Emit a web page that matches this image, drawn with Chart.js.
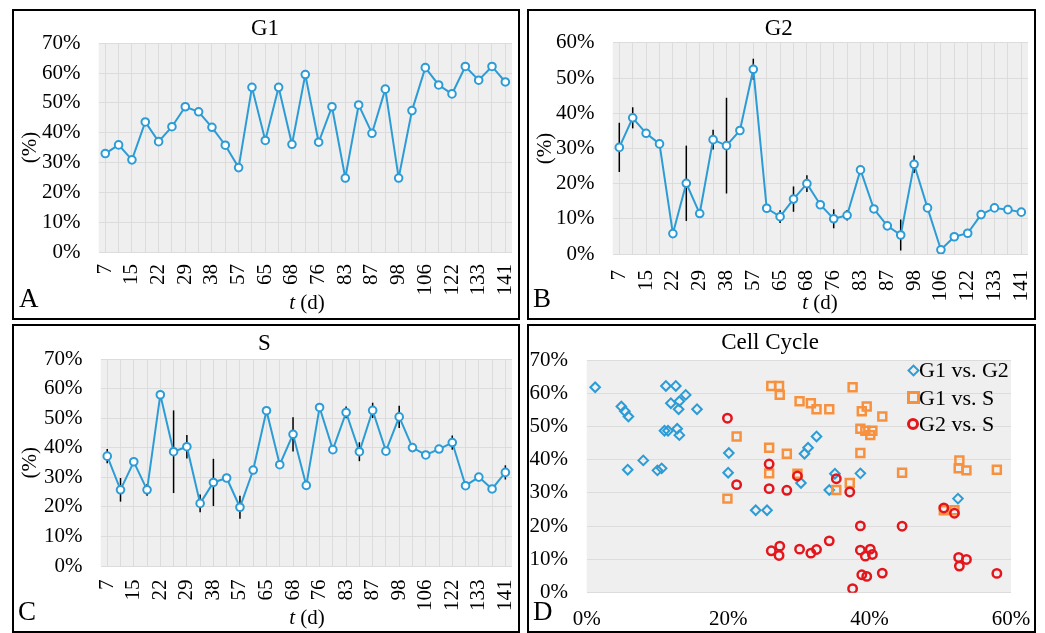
<!DOCTYPE html>
<html lang="en">
<head>
  <meta charset="UTF-8" />
  <title>Cell Cycle</title>
  <script src="https://cdn.jsdelivr.net/npm/chart.js"></script>
  <style>
    body { margin: 0; width: 1045px; height: 633px; background: #fff; position: relative; overflow: hidden;
           font-family: "Liberation Serif", "Times New Roman", serif; color: #000; }
    .panel { position: absolute; border: 2px solid #000; box-sizing: border-box; }
    .panel canvas { display: block; }
    .lbl { position: absolute; font-size: 27px; line-height: 27px; }
    .xt { position: absolute; font-size: 21px; line-height: 21px; transform: translateX(-50%); white-space: nowrap; }
    .leg { position: absolute; font-size: 22px; line-height: 22px; white-space: nowrap; }
    .mk { position: absolute; box-sizing: border-box; }
  </style>
</head>
<body>
  <div class="panel" style="left:12px;top:9px;width:508px;height:311px"><canvas id="cA" width="504" height="307"></canvas></div>
  <div class="panel" style="left:527px;top:9px;width:509px;height:311px"><canvas id="cB" width="505" height="307"></canvas></div>
  <div class="panel" style="left:12px;top:324px;width:508px;height:309px"><canvas id="cC" width="504" height="305"></canvas></div>
  <div class="panel" style="left:527px;top:324px;width:509px;height:309px"><canvas id="cD" width="505" height="305"></canvas></div>

  <span class="lbl" style="left:19px;top:285px">A</span>
  <span class="lbl" style="left:533px;top:285px">B</span>
  <span class="lbl" style="left:18px;top:598px">C</span>
  <span class="lbl" style="left:533px;top:598px">D</span>

  <span class="xt" style="left:307px;top:292px"><i>t</i> (d)</span>
  <span class="xt" style="left:820px;top:292px"><i>t</i> (d)</span>
  <span class="xt" style="left:307px;top:607px"><i>t</i> (d)</span>

  <div id="legD"></div>

  <script>
    // sampling days (every other one is labelled on the axis)
    const days = [7, 11, 15, 18, 22, 25, 29, 33, 38, 43, 57, 61, 65, 66, 68, 72, 76, 80, 83, 85, 87, 94, 98, 102, 106, 115, 122, 127, 133, 137, 141];

    // phase fractions (%)
    const g1 = [33.0, 35.9, 30.9, 43.6, 37.0, 42.0, 48.7, 47.0, 41.8, 35.8, 28.3, 55.2, 37.4, 55.2, 36.1, 59.5, 36.8, 48.7, 24.8, 49.3, 39.8, 54.6, 24.8, 47.4, 61.8, 56.0, 53.0, 62.2, 57.6, 62.2, 57.0];
    const g2 = [30.3, 38.7, 34.3, 31.3, 5.8, 20.1, 11.5, 32.5, 30.8, 35.1, 52.5, 13.0, 10.6, 15.6, 20.0, 14.0, 10.0, 11.0, 23.9, 12.8, 8.0, 5.4, 25.5, 13.1, 1.2, 4.9, 5.9, 11.2, 13.1, 12.6, 11.9];
    const s = [37.2, 25.8, 35.3, 25.8, 58.0, 38.7, 40.4, 21.2, 28.3, 29.8, 19.9, 32.5, 52.6, 34.3, 44.6, 27.3, 53.7, 39.4, 52.0, 38.7, 52.7, 38.9, 50.5, 40.1, 37.6, 39.6, 41.8, 27.2, 30.1, 26.1, 31.7];

    // standard deviations (%)
    const g2Err = [7, 3, 0, 0, 0, 10.7, 0, 2.8, 13.6, 0, 3, 0, 1.8, 3.6, 2.4, 0, 2.7, 1.5, 0, 0, 0, 4.4, 2.5, 0, 0, 0, 0, 0, 0, 1.2, 0];
    const sErr = [2.4, 4, 0, 2, 0, 14, 4, 3, 8, 0, 3.9, 0, 0, 0, 5.8, 0, 0, 0, 2, 3.2, 2.6, 0, 3.8, 1.2, 0, 0, 2.4, 0.8, 0, 0, 2.4];

    const pairNames = ['G1 vs. G2', 'G1 vs. S', 'G2 vs. S'];

    const SERIF = '"Liberation Serif", "Times New Roman", serif';
    const BLUE = '#2c9cd6';
    const ORANGE = '#f7913d';
    const RED = '#e3161d';
    const GRID = '#dcdcdc';

    Chart.defaults.font.family = SERIF;
    Chart.defaults.color = '#000';

    // grey plot area
    const plotBg = {
      id: 'plotBg',
      beforeDraw(chart) {
        const a = chart.chartArea, ctx = chart.ctx;
        ctx.save();
        ctx.fillStyle = '#efefef';
        ctx.fillRect(a.left, a.top, a.right - a.left, a.bottom - a.top);
        ctx.restore();
      }
    };

    // vertical error bars, under the line
    const errorBars = {
      id: 'errorBars',
      beforeDatasetsDraw(chart) {
        const ctx = chart.ctx, y = chart.scales.y;
        chart.data.datasets.forEach((ds, di) => {
          if (!ds.errors) return;
          const meta = chart.getDatasetMeta(di);
          ctx.save();
          ctx.strokeStyle = '#000';
          ctx.lineWidth = 1.5;
          ds.errors.forEach((e, i) => {
            if (!e) return;
            const x = meta.data[i].x;
            ctx.beginPath();
            ctx.moveTo(x, y.getPixelForValue(ds.data[i] + e));
            ctx.lineTo(x, y.getPixelForValue(ds.data[i] - e));
            ctx.stroke();
          });
          ctx.restore();
        });
      }
    };

    function lineChart(id, title, values, errors, yMax, g) {
      return new Chart(document.getElementById(id), {
        type: 'line',
        data: {
          labels: days,
          datasets: [{
            data: values,
            errors: errors,
            borderColor: BLUE,
            borderWidth: 2,
            pointRadius: 3.8,
            pointBorderWidth: 2,
            pointBorderColor: BLUE,
            pointBackgroundColor: '#fff',
            tension: 0
          }]
        },
        options: {
          responsive: false,
          animation: false,
          layout: { padding: { left: 0, right: g.right, top: 0, bottom: 0 } },
          plugins: {
            legend: { display: false },
            tooltip: { enabled: false },
            title: {
              display: true, text: title, color: '#000',
              font: { family: SERIF, size: 23, weight: 'normal' },
              padding: { top: g.tTop, bottom: g.tBot }
            }
          },
          scales: {
            x: {
              offset: true,
              grid: { color: GRID, drawTicks: false },
              border: { display: false },
              ticks: {
                autoSkip: false, minRotation: 90, maxRotation: 90, padding: g.xPad,
                font: { family: SERIF, size: 21 },
                callback: (v, i) => (i % 2 === 0 ? String(days[i]) : '')
              },
              afterFit: sc => { sc.height = g.xH; sc.paddingLeft = 0; sc.paddingRight = 0; }
            },
            y: {
              min: 0, max: yMax,
              grid: { color: GRID, drawTicks: false },
              border: { display: false },
              ticks: { stepSize: 10, padding: 18, font: { family: SERIF, size: 21 }, callback: v => v + '%' },
              title: { display: true, text: '(%)', font: { family: SERIF, size: 21 }, padding: { top: 4, bottom: 0 } },
              afterFit: sc => { sc.width = g.yW; sc.paddingTop = 0; sc.paddingBottom = 0; }
            }
          }
        },
        plugins: [plotBg, errorBars]
      });
    }

    lineChart('cA', 'G1', g1, null, 70, { yW: 84.6, right: 2, tTop: 4.6, tBot: 0, xH: 66, xPad: 12 });
    lineChart('cB', 'G2', g2, g2Err, 60, { yW: 83.6, right: 5.6, tTop: 4.3, tBot: 0, xH: 64, xPad: 16 });
    lineChart('cC', 'S', s, sErr, 70, { yW: 86.6, right: 3.3, tTop: 4.3, tBot: 1.4, xH: 65, xPad: 13.5 });

    // panel D: pairwise scatter built from the same series
    const pairData = [
      g2.map((x, i) => ({ x: x, y: g1[i] })),
      s.map((x, i) => ({ x: x, y: g1[i] })),
      s.map((x, i) => ({ x: x, y: g2[i] }))
    ];
    const pairStyle = [
      { pointStyle: 'rectRot', radius: 4.8, borderWidth: 2, color: BLUE, order: 2 },
      { pointStyle: 'rect', radius: 5.6, borderWidth: 2.5, color: ORANGE, order: 1 },
      { pointStyle: 'circle', radius: 4.2, borderWidth: 2.5, color: RED, order: 0 }
    ];

    new Chart(document.getElementById('cD'), {
      type: 'scatter',
      data: {
        datasets: pairNames.map((name, k) => ({
          label: name,
          data: pairData[k],
          pointStyle: pairStyle[k].pointStyle,
          pointRadius: pairStyle[k].radius,
          pointBorderWidth: pairStyle[k].borderWidth,
          borderColor: pairStyle[k].color,
          backgroundColor: 'rgba(0,0,0,0)',
          order: pairStyle[k].order
        }))
      },
      options: {
        responsive: false,
        animation: false,
        layout: { padding: { left: 0, right: 23, top: 0, bottom: 0 } },
        plugins: {
          legend: { display: false },
          tooltip: { enabled: false },
          title: {
            display: true, text: 'Cell Cycle', color: '#000',
            font: { family: SERIF, size: 23, weight: 'normal' },
            padding: { top: 3, bottom: 3.4 }
          }
        },
        scales: {
          x: {
            min: 0, max: 60,
            grid: { display: false },
            border: { display: false },
            ticks: { stepSize: 20, padding: 6, font: { family: SERIF, size: 21 }, callback: v => v + '%' },
            afterFit: sc => { sc.height = 38.3; sc.paddingLeft = 0; sc.paddingRight = 0; }
          },
          y: {
            min: 0, max: 70,
            grid: { color: GRID, drawTicks: false },
            border: { display: false },
            ticks: { stepSize: 10, padding: 18.7, font: { family: SERIF, size: 21 }, callback: v => v + '%' },
            afterFit: sc => { sc.width = 57.7; sc.paddingTop = 0; sc.paddingBottom = 0; }
          }
        }
      },
      plugins: [plotBg]
    });

    // legend of panel D, placed inside the plot area
    const leg = document.getElementById('legD');
    const legRows = [370, 397.5, 424];
    const legMarks = [
      'width:9px;height:9px;border:2.6px solid ' + BLUE + ';transform:rotate(45deg);',
      'width:13px;height:13px;border:3.4px solid ' + ORANGE + ';',
      'width:12px;height:12px;border:3px solid ' + RED + ';border-radius:50%;'
    ];
    const legSize = [9, 13, 12];
    pairNames.forEach((name, k) => {
      const yc = legRows[k];
      leg.insertAdjacentHTML('beforeend',
        '<span class="mk" style="left:' + (913 - legSize[k] / 2) + 'px;top:' + (yc - legSize[k] / 2) + 'px;' + legMarks[k] + '"></span>' +
        '<span class="leg" style="left:919px;top:' + (yc - 11) + 'px">' + name + '</span>');
    });
  </script>
</body>
</html>
